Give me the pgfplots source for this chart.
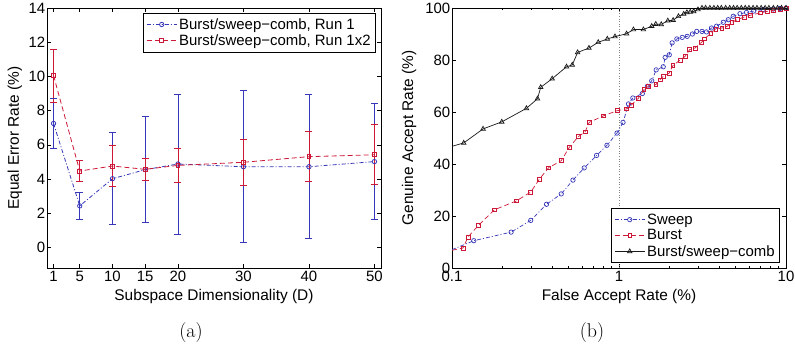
\documentclass[border=0pt]{standalone}
\usepackage{fontspec}
\usepackage{pgfplots}
\pgfplotsset{compat=1.18}
\newfontfamily\arial{Liberation Sans}
\definecolor{mblue}{RGB}{55,55,185}
\definecolor{mred}{RGB}{205,25,55}
\definecolor{mblack}{RGB}{25,25,25}
\pgfplotsset{
  mstyle/.style={
    scale only axis, width=334bp, height=260bp,
    tick align=inside, major tick length=4bp, minor tick length=2.5bp,
    axis line style={line width=0.8bp},
    every tick/.style={black, line width=0.5bp},
    tick label style={font=\arial\fontsize{15}{18}\selectfont},
    yticklabel style={inner sep=1.5bp},
    /pgf/number format/assume math mode=true,
    legend style={font=\arial\fontsize{15}{18}\selectfont, draw=black, line width=0.8bp,
      row sep=0bp, inner xsep=3bp, inner ysep=3bp, cells={anchor=west}},
    legend cell align=left,
    legend image code/.code={\draw[mark repeat=2,mark phase=2] plot coordinates {(0bp,0bp) (15bp,0bp) (30bp,0bp)};},
  }
}
% x, mean, lower, upper
\pgfplotstableread{
x y e lo hi
1 7.25 1.46 5.79 8.71
5 2.43 0.77 1.66 3.20
10 4.02 2.69 1.33 6.71
15 4.55 3.11 1.44 7.66
20 4.88 4.09 0.79 8.97
30 4.72 4.45 0.27 9.17
40 4.72 4.22 0.50 8.94
50 5.02 3.38 1.64 8.40
}\runone
\pgfplotstableread{
x y e lo hi
1 10.05 1.55 8.50 11.60
5 4.47 0.62 3.85 5.09
10 4.76 1.18 3.58 5.94
15 4.57 0.66 3.91 5.23
20 4.80 0.99 3.81 5.79
30 4.98 1.35 3.63 6.33
40 5.31 1.46 3.85 6.77
50 5.42 1.75 3.67 7.17
}\runtwo
\begin{document}
\begin{tikzpicture}
\useasboundingbox (0,0) rectangle (795bp,348bp);
\begin{axis}[mstyle,
  at={(47bp,80bp)}, anchor=south west,
  xmin=0, xmax=51, ymin=-1.2, ymax=14,
  xtick={1,5,10,15,20,30,40,50}, ytick={0,2,...,14},
  every axis x label/.style={at={(axis description cs:0.5,-0.1115)},anchor=center,font=\arial\fontsize{15.5}{18}\selectfont},
  every axis y label/.style={at={(axis description cs:-0.096,0.5)},anchor=center,rotate=90,font=\arial\fontsize{15.5}{18}\selectfont},
  xlabel={Subspace Dimensionality (D)},
  ylabel={Equal Error Rate (\%)},
  legend style={at={(axis description cs:0.985,0.981)}, anchor=north east},
]
\addplot[mblue, line width=0.8bp, dash pattern=on 4bp off 2bp on 1bp off 2bp,
  mark=o, mark size=2.2bp, mark options={solid},
  error bars/.cd, y dir=both, y explicit, error mark=none,
  error bar style={draw=mblue, solid, line width=0.9bp}]
  table[x=x, y=y, y error=e] {\runone};
\addlegendentry{Burst/sweep−comb, Run 1}
\addplot[mblue, only marks, mark=-, mark size=3.5bp, mark options={solid, line width=0.9bp}, forget plot]
  table[x=x, y=lo] {\runone};
\addplot[mblue, only marks, mark=-, mark size=3.5bp, mark options={solid, line width=0.9bp}, forget plot]
  table[x=x, y=hi] {\runone};
\addplot[mred, line width=0.8bp, dash pattern=on 5bp off 3bp,
  mark=square, mark size=1.9bp, mark options={solid},
  error bars/.cd, y dir=both, y explicit, error mark=none,
  error bar style={draw=mred, solid, line width=0.9bp}]
  table[x=x, y=y, y error=e] {\runtwo};
\addlegendentry{Burst/sweep−comb, Run 1x2}
\addplot[mred, only marks, mark=-, mark size=3.5bp, mark options={solid, line width=0.9bp}, forget plot]
  table[x=x, y=lo] {\runtwo};
\addplot[mred, only marks, mark=-, mark size=3.5bp, mark options={solid, line width=0.9bp}, forget plot]
  table[x=x, y=hi] {\runtwo};
\end{axis}

\begin{axis}[mstyle,
  at={(452bp,80bp)}, anchor=south west,
  xmode=log, xmin=0.1, xmax=10, ymin=0, ymax=100,
  xtick={0.1,1,10}, xticklabels={0.1,1,10},
  minor xtick={0.2,0.3,0.4,0.5,0.6,0.7,0.8,0.9,2,3,4,5,6,7,8,9},
  ytick={0,20,...,100},
  clip mode=individual,
  every axis x label/.style={at={(axis description cs:0.5,-0.1115)},anchor=center,font=\arial\fontsize{15.5}{18}\selectfont},
  every axis y label/.style={at={(axis description cs:-0.1287,0.5)},anchor=center,rotate=90,font=\arial\fontsize{15.5}{18}\selectfont},
  xlabel={False Accept Rate (\%)},
  ylabel={Genuine Accept Rate (\%)},
  legend style={at={(axis description cs:0.982,0.019)}, anchor=south east},
]
\addplot[gray, dotted, line width=0.6bp, forget plot] coordinates {(1,0) (1,100)};
\addplot[mblue, line width=0.7bp, dash pattern=on 4bp off 2bp on 1bp off 2bp,
  mark=o, mark size=2.2bp, mark options={solid}, mark repeat=1, mark phase=2]
  coordinates {(0.1,7.05) (0.135,10.5) (0.226,13.8) (0.296,18.3) (0.368,24.5) (0.451,28.5)
  (0.530,33.8) (0.619,38.5) (0.734,43.3) (0.847,47.2) (0.973,51.9) (1.057,56.0) (1.14,63.1)
  (1.21,65.4) (1.38,67.1) (1.48,69.9) (1.57,72.0) (1.67,76.2) (1.84,77.4) (1.89,81.0)
  (2.0,82.0) (2.08,86.6) (2.22,88.1) (2.39,88.7) (2.56,89.1) (2.75,90.0) (2.92,91.0)
  (3.14,91.0) (3.34,90.8) (3.58,92.3) (3.84,93.0) (4.21,94.5) (4.51,95.5) (4.83,96.8)
  (5.3,97.8) (5.8,98.3) (6.4,98.8) (7.3,99.4) (8.4,99.6) (9.2,99.8) (10,100)};
\addlegendentry{Sweep}
\addplot[mred, line width=0.7bp, dash pattern=on 5bp off 3bp,
  mark=square, mark size=1.9bp, mark options={solid}, mark repeat=1, mark phase=2]
  coordinates {(0.1,6.8) (0.1164,7.7) (0.1247,11.9) (0.1439,16.4) (0.1796,22.4) (0.243,25.8)
  (0.296,29.2) (0.332,34.0) (0.378,38.5) (0.451,41.3) (0.505,46.5) (0.570,50.5) (0.627,52.4)
  (0.663,56.0) (0.805,58.5) (0.973,60.5) (1.11,61.2) (1.18,62.6) (1.31,65.4) (1.41,68.6)
  (1.50,69.9) (1.66,70.5) (1.76,72.4) (1.84,73.7) (2.0,75.0) (2.10,77.8) (2.32,80.0)
  (2.49,81.4) (2.65,84.0) (2.85,84.6) (3.12,86.8) (3.26,88.1) (3.55,90.4) (3.80,91.9)
  (4.13,92.3) (4.46,93.0) (4.74,94.5) (5.1,95.5) (5.6,96.5) (6.1,97.2) (7.0,98.1)
  (7.7,98.7) (8.4,99.1) (9.2,99.5) (10,99.8)};
\addlegendentry{Burst}
\addplot[mblack, line width=0.7bp, mark=triangle, mark size=2.6bp, mark options={solid},
  mark repeat=1, mark phase=2]
  coordinates {(0.1,46.8) (0.1175,48.1) (0.1535,53.5) (0.1986,56.2) (0.279,61.4) (0.325,65.1)
  (0.340,69.5) (0.398,72.8) (0.485,77.4) (0.525,78.1) (0.565,82.9) (0.661,84.6) (0.751,86.8)
  (0.851,88.1) (0.946,89.0) (1.11,90.1) (1.22,91.7) (1.40,91.7) (1.57,93.0) (1.66,93.8)
  (1.79,93.7) (1.96,95.1) (2.11,95.3) (2.27,96.8) (2.44,97.7) (2.55,98.3) (2.67,98.5)
  (2.80,98.7) (2.97,99.4) (3.14,100) (3.3,100) (3.5,100) (3.7,100) (3.9,100) (4.1,100)
  (4.35,100) (4.6,100) (4.85,100) (5.1,100) (5.4,100) (5.7,100) (6.0,100) (6.35,100)
  (6.7,100) (7.1,100) (7.5,100) (7.9,100) (8.4,100) (8.9,100) (9.4,100) (10,100)};
\addlegendentry{Burst/sweep−comb}
\end{axis}
\node[font=\fontsize{20}{24}\selectfont] at (191bp,15bp) {(a)};
\node[font=\fontsize{20}{24}\selectfont] at (592bp,15bp) {(b)};
\end{tikzpicture}
\end{document}
